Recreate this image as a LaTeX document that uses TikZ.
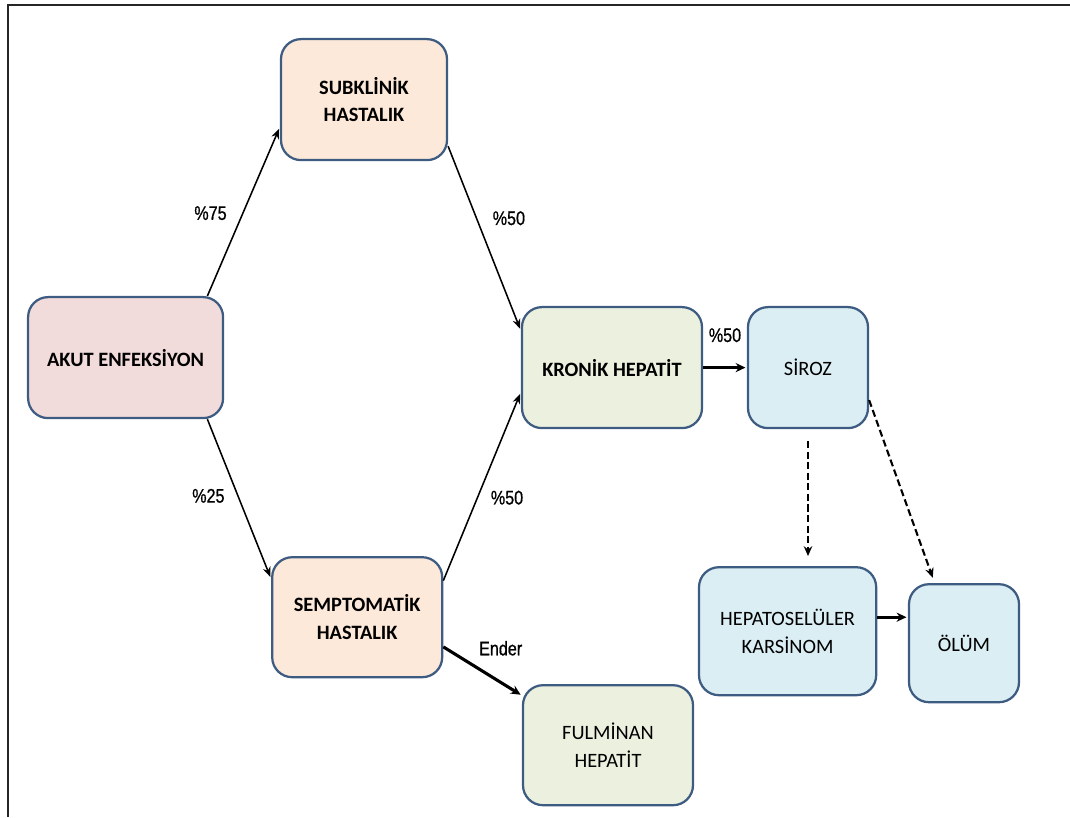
\documentclass[tikz,border=0pt]{standalone}
\usepackage{fontspec}
\setmainfont{Carlito}
\newfontfamily\pctfont[FakeStretch=0.82, FakeBold=0.8]{Liberation Sans}
\usetikzlibrary{positioning, arrows.meta, calc}
\usepackage{xcolor}
\definecolor{akut-color}{RGB}{242,220,219}
\definecolor{hastalik-color}{RGB}{253,233,217}
\definecolor{hepatit-color}{RGB}{235,241,222}
\definecolor{siroz-color}{RGB}{219,238,244}
\definecolor{kenar-color}{RGB}{62,92,130}

\begin{document}
\begin{tikzpicture}[
    kutu/.style={rectangle, draw=kenar-color, line width=1.6pt, rounded corners=0.5cm, align=center, inner sep=2pt, font=\fontsize{14.5}{19.5}\selectfont},
    ince/.style={-{Stealth[length=7pt, width=5.5pt]}, line width=1.1pt, shorten >=1.5pt},
    kalin/.style={-{Stealth[length=7pt, width=6.5pt]}, line width=2.2pt, shorten >=1pt},
    kesik/.style={-{Stealth[length=7pt, width=6pt]}, line width=1.5pt, dash pattern=on 5pt off 2.5pt},
    oran/.style={inner sep=1pt, font=\pctfont\fontsize{14}{16}\selectfont}]

    \useasboundingbox (0,0) rectangle (26.75,-20.425);

    % frame (top and left only)
    \draw[line width=1.6pt, black!85] (26.75,-0.125) -- (0.2,-0.125) -- (0.2,-20.425);

    % Start node
    \node[kutu, fill=akut-color, minimum width=4.875cm, minimum height=3.025cm] (akut) at (3.14,-8.94) {\bfseries AKUT ENFEKS\.IYON};

    % Two courses of the disease
    \node[kutu, fill=hastalik-color, minimum width=4.15cm, minimum height=3.025cm] (subk) at (9.10,-2.49) {\bfseries SUBKL\.IN\.IK\\\bfseries HASTALIK};
    \node[kutu, fill=hastalik-color, minimum width=4.25cm, minimum height=3.0cm] (sempt) at (8.93,-15.43) {\bfseries SEMPTOMAT\.IK\\\bfseries HASTALIK};

    % Hepatitis outcomes
    \node[kutu, fill=hepatit-color, minimum width=4.5cm, minimum height=3.025cm] (kronik) at (15.30,-9.19) {\bfseries KRON\.IK HEPAT\.IT};
    \node[kutu, fill=hepatit-color, minimum width=4.25cm, minimum height=3.0cm] (fulm) at (15.20,-18.63) {FULM\.INAN\\HEPAT\.IT};

    % Late outcomes
    \node[kutu, fill=siroz-color, minimum width=3.0cm, minimum height=3.025cm] (siroz) at (20.20,-9.19) {S\.IROZ};
    \node[kutu, fill=siroz-color, minimum width=4.43cm, minimum height=3.2cm] (hcc) at (19.69,-15.78) {HEPATOSEL\"ULER\\KARS\.INOM};
    \node[kutu, fill=siroz-color, minimum width=2.75cm, minimum height=2.95cm] (olum) at (24.10,-16.08) {\"OL\"UM};

    % Arrows
    \draw[ince] (akut.37) -- node[oran, pos=0.49, left=10pt] {\%75} (subk.198);
    \draw[ince] (akut.-37) -- node[oran, pos=0.48, left=8pt] {\%25} (sempt.156);
    \draw[ince] (subk.-29) -- node[oran, pos=0.39, right=10pt] {\%50} (kronik.158);
    \draw[ince] (sempt.23) -- node[oran, pos=0.44, right=8pt] {\%50} (kronik.195);
    \draw[kalin] (kronik.east) -- node[oran, above=16pt] {\%50} (siroz.west);
    \draw[kalin] (sempt.-19) -- node[oran, pos=0.73, above=17pt] {Ender} (fulm.150);
    \draw[kesik, shorten <=0.3cm, shorten >=0.25cm] (siroz.south) -- (siroz.south |- hcc.north);
    \draw[kesik, shorten >=4pt] (siroz.-28) -- (olum.116);
    \draw[kalin] ([yshift=0.35cm]hcc.east) -- ([yshift=0.35cm]hcc.east -| olum.west);
\end{tikzpicture}
\end{document}
